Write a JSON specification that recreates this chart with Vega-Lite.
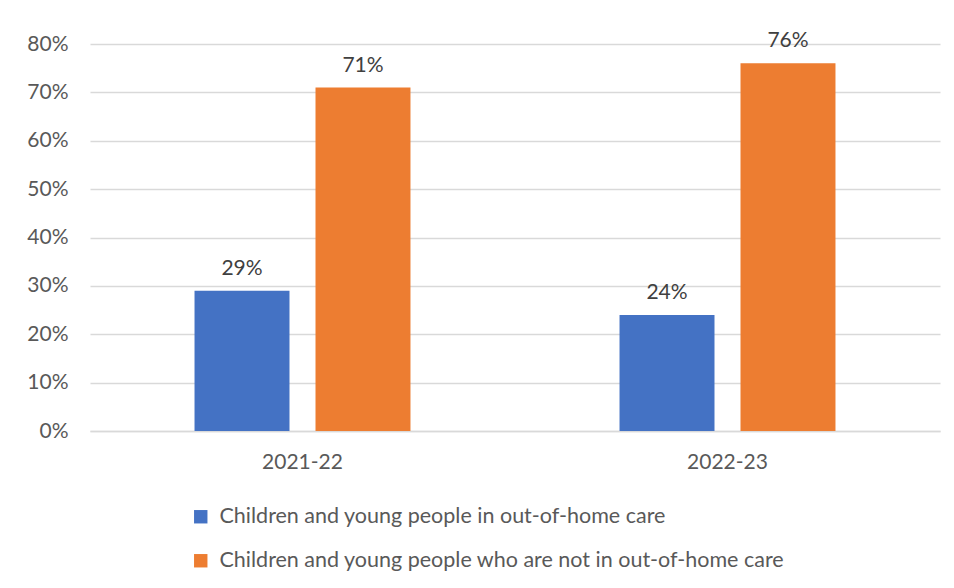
{
  "$schema": "https://vega.github.io/schema/vega-lite/v6.json",
  "width": 850,
  "height": 387,
  "autosize": "none",
  "padding": {"left": 90, "top": 44, "right": 14, "bottom": 157},
  "background": "white",
  "config": {
    "font": "Lato",
    "view": {"stroke": null},
    "axis": {"labelFont": "Lato", "labelFontSize": 21, "labelColor": "#595959", "ticks": false, "title": null, "labelOverlap": false}
  },
  "data": {
    "values": [
      {"year": "2021-22", "group": "Children and young people in out-of-home care", "value": 0.29},
      {"year": "2021-22", "group": "Children and young people who are not in out-of-home care", "value": 0.71},
      {"year": "2022-23", "group": "Children and young people in out-of-home care", "value": 0.24},
      {"year": "2022-23", "group": "Children and young people who are not in out-of-home care", "value": 0.76}
    ]
  },
  "encoding": {
    "x": {
      "field": "year", "type": "nominal",
      "scale": {"paddingInner": 0, "paddingOuter": 0},
      "axis": {"labelAngle": 0, "labelPadding": 20, "domainColor": "#d9d9d9", "domainWidth": 1.5, "grid": false}
    },
    "xOffset": {
      "field": "group", "type": "nominal",
      "scale": {"paddingInner": 0.215, "paddingOuter": 0.864}
    },
    "y": {
      "field": "value", "type": "quantitative",
      "scale": {"domain": [0, 0.8], "nice": false},
      "axis": {"format": "%", "values": [0, 0.1, 0.2, 0.3, 0.4, 0.5, 0.6, 0.7, 0.8], "domain": false, "gridColor": "#d9d9d9", "gridWidth": 1.5, "labelPadding": 22}
    }
  },
  "layer": [
    {
      "mark": {"type": "bar"},
      "encoding": {
        "color": {
          "field": "group", "type": "nominal",
          "scale": {"range": ["#4472C4", "#ED7D31"]},
          "legend": {
            "title": null, "orient": "none", "legendX": 100, "legendY": 462,
            "direction": "vertical", "symbolType": "square", "symbolSize": 180,
            "labelFontSize": 21.5, "labelColor": "#595959", "labelFont": "Lato", "labelLimit": 800,
            "rowPadding": 21, "labelOffset": 8, "symbolStrokeWidth": 0, "padding": 0, "offset": 0
          }
        }
      }
    },
    {
      "mark": {"type": "text", "dy": -22, "fontSize": 21, "color": "#404040", "font": "Lato"},
      "encoding": {
        "text": {"field": "value", "type": "quantitative", "format": ".0%"}
      }
    }
  ]
}
